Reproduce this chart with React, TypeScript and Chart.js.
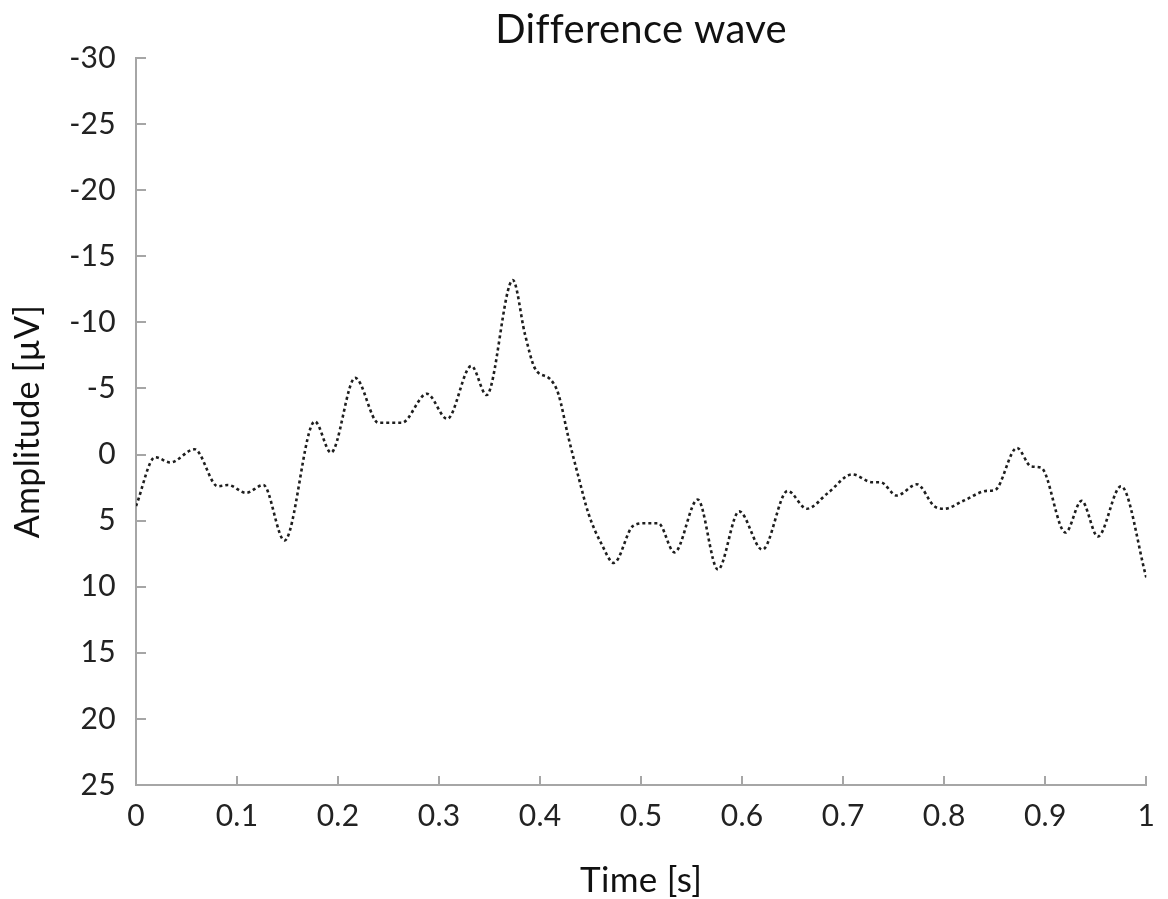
import React, { useEffect, useRef } from "react";
import { Chart, registerables } from "chart.js";

Chart.register(...registerables);

const chartTitle = "Difference wave";
const xAxisTitle = "Time [s]";
const yAxisTitle = "Amplitude [µV]";

const times = [
  0.0, 0.019, 0.034, 0.058, 0.081, 0.091, 0.109, 0.126, 0.147, 0.177, 0.193,
  0.217, 0.24, 0.263, 0.288, 0.308, 0.332, 0.347, 0.373, 0.385, 0.395, 0.41,
  0.418, 0.428, 0.438, 0.448, 0.461, 0.473, 0.492, 0.504, 0.517, 0.533, 0.556,
  0.576, 0.597, 0.62, 0.645, 0.664, 0.685, 0.709, 0.729, 0.737, 0.753, 0.773,
  0.79, 0.8, 0.819, 0.842, 0.85, 0.872, 0.886, 0.896, 0.92, 0.936, 0.952,
  0.975, 1.0,
];

const amplitudes = [
  3.9, 0.2, 0.6, -0.4, 2.4, 2.3, 2.9, 2.3, 6.5, -2.5, -0.15, -5.8, -2.4, -2.4,
  -4.6, -2.7, -6.7, -4.5, -13.2, -9.1, -6.5, -5.7, -4.6, -1.3, 1.7, 4.5, 6.8,
  8.2, 5.4, 5.2, 5.2, 7.4, 3.4, 8.7, 4.3, 7.2, 2.75, 4.1, 2.9, 1.5, 2.1, 2.1,
  3.1, 2.25, 3.9, 4.1, 3.5, 2.75, 2.7, -0.5, 0.9, 1.0, 5.9, 3.5, 6.2, 2.4,
  9.3,
];

const xTickLabels = ["0", "0.1", "0.2", "0.3", "0.4", "0.5", "0.6", "0.7", "0.8", "0.9", "1"];
const yMin = -30;
const yMax = 25;
const yStep = 5;

const FONT = "Lato, 'Open Sans', sans-serif";

const noLigatures = {
  id: "noLigatures",
  beforeDraw(chart: any) {
    try {
      (chart.ctx as any).letterSpacing = "0.3px";
    } catch (e) {}
  },
};

const innerTicks = {
  id: "innerTicks",
  afterDatasetsDraw(chart: any) {
    const { ctx, chartArea, scales } = chart;
    ctx.save();
    ctx.strokeStyle = "#a6a6a6";
    ctx.lineWidth = 2;
    ctx.beginPath();
    scales.x.ticks.forEach((t: any) => {
      const px = Math.round(scales.x.getPixelForValue(t.value));
      ctx.moveTo(px, chartArea.bottom);
      ctx.lineTo(px, chartArea.bottom - 9);
    });
    scales.y.ticks.forEach((t: any) => {
      const py = Math.round(scales.y.getPixelForValue(t.value));
      ctx.moveTo(chartArea.left, py);
      ctx.lineTo(chartArea.left + 10, py);
    });
    ctx.stroke();
    ctx.restore();
  },
};

export default function App() {
  const canvasRef = useRef<HTMLCanvasElement | null>(null);

  useEffect(() => {
    let chart: Chart | null = null;
    let cancelled = false;
    const build = () => {
      if (cancelled || !canvasRef.current) return;
      const points = times.map((t, i) => ({ x: t, y: amplitudes[i] }));
      chart = new Chart(canvasRef.current, {
        type: "line",
        data: {
          datasets: [
            {
              data: points,
              borderColor: "#1e1e1e",
              borderWidth: 2.6,
              borderDash: [3, 3],
              pointRadius: 0,
              fill: false,
              cubicInterpolationMode: "monotone",
            },
          ],
        },
        options: {
          animation: false,
          responsive: false,
          maintainAspectRatio: false,
          layout: { padding: { left: 0, right: 15, top: 0, bottom: 0 } },
          plugins: {
            legend: { display: false },
            tooltip: { enabled: false },
            title: {
              display: true,
              text: chartTitle,
              fullSize: false,
              color: "#111",
              font: { family: FONT, size: 40, weight: "normal", lineHeight: 1.2 },
              padding: { top: 6, bottom: 4 },
            },
          },
          scales: {
            x: {
              type: "linear",
              min: 0,
              max: 1,
              afterFit: (scale: any) => {
                scale.height = 114;
              },
              ticks: {
                stepSize: 0.1,
                padding: 13,
                color: "#222",
                font: { family: FONT, size: 30, lineHeight: 1.2 },
                maxRotation: 0,
                autoSkip: false,
                callback: (_v: any, i: number) => xTickLabels[i],
              },
              grid: { display: false, drawTicks: false },
              border: { display: true, color: "#a6a6a6", width: 2 },
              title: {
                display: true,
                text: xAxisTitle,
                color: "#111",
                font: { family: FONT, size: 35, lineHeight: 1 },
                padding: { top: 0, bottom: 1 },
              },
            },
            y: {
              type: "linear",
              reverse: true,
              min: yMin,
              max: yMax,
              afterFit: (scale: any) => {
                scale.width = 136;
              },
              ticks: {
                stepSize: yStep,
                padding: 20,
                color: "#222",
                font: { family: FONT, size: 30, lineHeight: 1.2 },
              },
              grid: { display: false, drawTicks: false },
              border: { display: true, color: "#a6a6a6", width: 2 },
              title: {
                display: true,
                text: yAxisTitle,
                color: "#111",
                font: { family: FONT, size: 34, lineHeight: 1 },
                padding: { top: 11, bottom: 0 },
              },
            },
          },
        },
        plugins: [noLigatures, innerTicks],
      });
    };
    const fontsReady = (document as any).fonts
      ? Promise.all([
          (document as any).fonts.load("30px Lato"),
          (document as any).fonts.load("40px Lato"),
        ]).catch(() => null)
      : Promise.resolve(null);
    fontsReady.then(build);
    return () => {
      cancelled = true;
      if (chart) chart.destroy();
    };
  }, []);

  return (
    <div style={{ position: "absolute", left: 0, top: 0, width: 1168, height: 899, background: "#fff" }}>
      <canvas ref={canvasRef} width={1168} height={899} style={{ width: 1168, height: 899, display: "block" }} />
    </div>
  );
}
